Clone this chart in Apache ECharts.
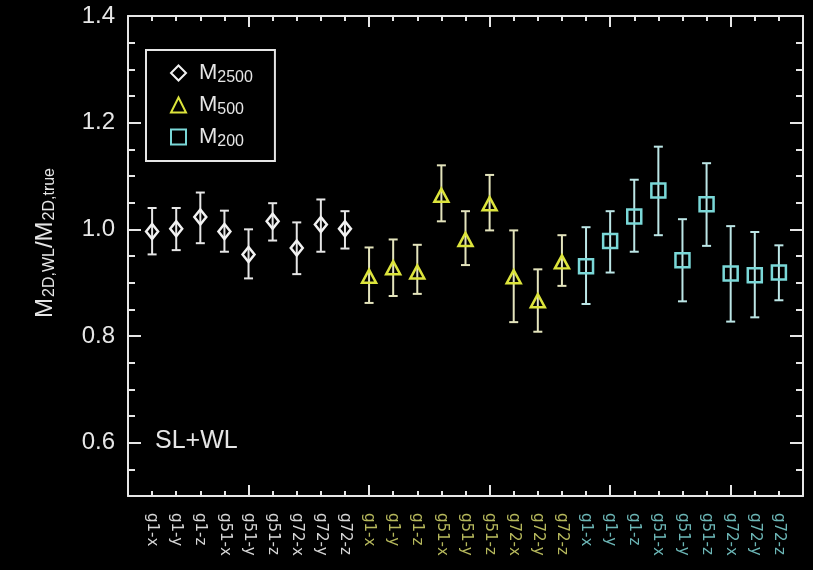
<!DOCTYPE html>
<html>
<head>
<meta charset="utf-8">
<script src="https://cdn.jsdelivr.net/npm/echarts@6/dist/echarts.min.js"></script>
<style>
  html, body { margin: 0; padding: 0; background: #000; }
  #chart { width: 813px; height: 570px; }
</style>
</head>
<body>
<div id="chart"></div>
<script>
// Projection labels for one mass definition (halo + line of sight)
const runLabels = ['g1-x', 'g1-y', 'g1-z', 'g51-x', 'g51-y', 'g51-z', 'g72-x', 'g72-y', 'g72-z'];

// Ratio M_2D,WL / M_2D,true with lower / upper error bounds
const m2500Ratio = [0.996, 1.001, 1.023, 0.996, 0.953, 1.015, 0.965, 1.009, 1.001];
const m2500Low   = [0.953, 0.961, 0.974, 0.958, 0.908, 0.979, 0.916, 0.958, 0.964];
const m2500High  = [1.040, 1.040, 1.069, 1.035, 1.000, 1.049, 1.013, 1.056, 1.034];

const m500Ratio = [0.912, 0.928, 0.920, 1.064, 0.981, 1.048, 0.911, 0.866, 0.939];
const m500Low   = [0.862, 0.875, 0.879, 1.015, 0.933, 0.998, 0.826, 0.808, 0.894];
const m500High  = [0.966, 0.981, 0.971, 1.120, 1.034, 1.102, 0.998, 0.925, 0.989];

const m200Ratio = [0.931, 0.978, 1.024, 1.073, 0.942, 1.047, 0.917, 0.914, 0.919];
const m200Low   = [0.860, 0.919, 0.958, 0.989, 0.865, 0.969, 0.827, 0.835, 0.867];
const m200High  = [1.004, 1.034, 1.093, 1.155, 1.019, 1.124, 1.006, 0.995, 0.970];

const yTickLabels = [0.6, 0.8, 1.0, 1.2, 1.4];

// Colours per mass definition: marker, error bar, tick label
const groups = [
  { name: 'M2500', symbol: 'diamond',  size: [12, 15], marker: '#f2f2f2', bar: '#e6e6e6', label: '#d6d6d6',
    ratio: m2500Ratio, low: m2500Low, high: m2500High },
  { name: 'M500',  symbol: 'triangle', size: [14, 13], marker: '#dce43c', bar: '#e4e4bc', label: '#b6b85c',
    ratio: m500Ratio, low: m500Low, high: m500High },
  { name: 'M200',  symbol: 'rect',     size: [14, 14], marker: '#7ad8d8', bar: '#bce6e6', label: '#6cb6b6',
    ratio: m200Ratio, low: m200Low, high: m200High }
];

const tickLabels = runLabels.concat(runLabels, runLabels);
const tickColors = [];
groups.forEach(g => runLabels.forEach(() => tickColors.push(g.label)));

const positions = tickLabels.map((_, i) => i + 1);
const minorY = [];
for (let k = 11; k <= 27; k++) minorY.push(+(k * 0.05).toFixed(2));

const axisColor = '#e6e6e6';
const font = 'Liberation Sans, Arial, sans-serif';

function errorBars(color) {
  return function (params, api) {
    const x = api.value(0);
    const lo = api.coord([x, api.value(1)]);
    const hi = api.coord([x, api.value(2)]);
    const w = 4.5;
    const style = { stroke: color, lineWidth: 2 };
    return {
      type: 'group',
      children: [
        { type: 'line', shape: { x1: lo[0], y1: lo[1], x2: hi[0], y2: hi[1] }, style },
        { type: 'line', shape: { x1: hi[0] - w, y1: hi[1], x2: hi[0] + w, y2: hi[1] }, style },
        { type: 'line', shape: { x1: lo[0] - w, y1: lo[1], x2: lo[0] + w, y2: lo[1] }, style }
      ]
    };
  };
}

const series = [];
groups.forEach((g, gi) => {
  const offset = gi * runLabels.length + 1;
  series.push({
    name: g.name + ' error',
    type: 'custom',
    renderItem: errorBars(g.bar),
    encode: { x: 0, y: [1, 2] },
    data: g.ratio.map((_, i) => [offset + i, g.low[i], g.high[i]]),
    z: 2,
    silent: true
  });
  series.push({
    name: g.name,
    type: 'scatter',
    symbol: g.symbol,
    symbolSize: g.size,
    itemStyle: { color: 'rgba(0,0,0,0)', borderColor: g.marker, borderWidth: 2.5, opacity: 1 },
    data: g.ratio.map((v, i) => [offset + i, v]),
    z: 3
  });
});

function xAxisDef(position, ticks, length, showLine, showLabels) {
  return {
    type: 'value', position, min: 0, max: 28,
    axisLine: { show: showLine, onZero: false, lineStyle: { color: axisColor, width: 2 } },
    axisTick: { show: true, inside: true, length, customValues: ticks, lineStyle: { color: axisColor, width: 2 } },
    axisLabel: showLabels ? {
      show: true, customValues: positions, rotate: -90, margin: 17,
      fontFamily: 'DejaVu Sans, sans-serif', fontSize: 15,
      formatter: v => tickLabels[Math.round(v) - 1] || '',
      color: v => tickColors[Math.round(+v) - 1] || '#ddd'
    } : { show: false },
    splitLine: { show: false }
  };
}

function yAxisDef(position, ticks, length, showLine, showLabels, name) {
  const def = {
    type: 'value', position, min: 0.5, max: 1.4,
    axisLine: { show: showLine, onZero: false, lineStyle: { color: axisColor, width: 2 } },
    axisTick: { show: true, inside: true, length, customValues: ticks, lineStyle: { color: axisColor, width: 2 } },
    axisLabel: showLabels ? {
      show: true, customValues: yTickLabels, margin: 13,
      fontFamily: font, fontSize: 24, color: axisColor,
      formatter: v => (+v).toFixed(1)
    } : { show: false },
    splitLine: { show: false }
  };
  if (name) {
    def.name = '{m|M}{s|2D,WL}{m|/M}{s|2D,true}';
    def.nameLocation = 'middle';
    def.nameRotate = 90;
    def.nameGap = 70;
    def.nameTextStyle = {
      color: axisColor,
      padding: [0, 0, 0, 26],
      rich: {
        m: { fontFamily: font, fontSize: 24, color: axisColor },
        s: { fontFamily: font, fontSize: 16, color: axisColor, padding: [10, 0, 0, 1] }
      }
    };
  }
  return def;
}

const chart = echarts.init(document.getElementById('chart'), null, { renderer: 'canvas' });
chart.setOption({
  backgroundColor: '#000',
  animation: false,
  grid: { left: 128, right: 10, top: 16, bottom: 74, containLabel: false },
  title: {
    text: 'SL+WL', left: 150, top: 424,
    textStyle: { color: axisColor, fontFamily: font, fontSize: 25, fontWeight: 'normal' }
  },
  legend: {
    orient: 'vertical', left: 146, top: 50,
    backgroundColor: '#000', borderColor: axisColor, borderWidth: 2,
    padding: [12, 22, 11, 24], itemGap: 8, itemWidth: 15, itemHeight: 15,
    data: groups.map(g => ({ name: g.name, icon: g.symbol })),
    formatter: name => '{m|M}{s|' + name.slice(1) + '}',
    textStyle: {
      color: axisColor,
      rich: {
        m: { fontFamily: font, fontSize: 22, color: axisColor, padding: [0, 0, 0, 8] },
        s: { fontFamily: font, fontSize: 16, color: axisColor, padding: [10, 0, 0, 0] }
      }
    },
    selectedMode: false
  },
  xAxis: [
    xAxisDef('bottom', positions, 5, true, true),
    xAxisDef('bottom', [5, 10, 15, 20, 25], 11, false, false),
    xAxisDef('top', positions, 5, true, false),
    xAxisDef('top', [5, 10, 15, 20, 25], 11, false, false)
  ],
  yAxis: [
    yAxisDef('left', yTickLabels, 13, true, true, true),
    yAxisDef('left', minorY, 7, false, false, false),
    yAxisDef('right', yTickLabels, 13, true, false, false),
    yAxisDef('right', minorY, 7, false, false, false)
  ],
  series
});
</script>
</body>
</html>
